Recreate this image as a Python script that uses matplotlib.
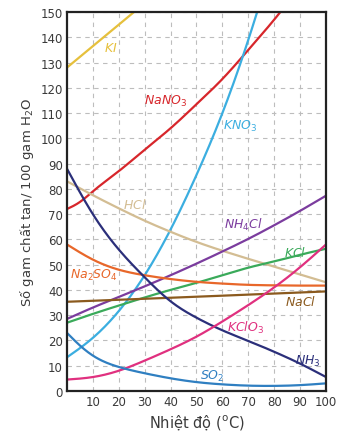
import numpy as np
import matplotlib
matplotlib.use("Agg")
import matplotlib.pyplot as plt

# ---- data (temperature °C, solubility g / 100 g H2O) ----
t_KI = [0, 10, 20, 30]
v_KI = [128, 136.5, 145, 153.5]
t_NaNO3 = [0, 5, 10, 20, 30, 40, 50, 60, 70, 80, 90]
v_NaNO3 = [72, 74.8, 79, 87, 95.5, 104, 113.5, 123.5, 135, 147, 160]
t_KNO3 = [0, 10, 20, 30, 40, 50, 60, 70, 80]
v_KNO3 = [13.3, 21, 31.6, 45.8, 63.9, 85.5, 110, 139, 172]
t_HCl = [0, 10, 20, 30, 40, 50, 60, 70, 80, 90, 100]
v_HCl = [83, 77.5, 72.3, 67.4, 63, 59, 55.5, 52.3, 49.2, 46.1, 43]
t_NH4Cl = [0, 10, 20, 30, 40, 50, 60, 70, 80, 90, 100]
v_NH4Cl = [28.5, 33, 37.2, 41.4, 45.8, 50.4, 55.2, 60.2, 65.6, 71.3, 77.3]
t_KCl = [0, 10, 20, 30, 40, 50, 60, 70, 80, 90, 100]
v_KCl = [27, 30.5, 33.8, 37, 40, 42.8, 45.8, 48.8, 51.3, 53.9, 56.3]
t_Na2SO4 = [0, 10, 20, 30, 40, 50, 60, 70, 80, 90, 100]
v_Na2SO4 = [58, 52, 48, 45.8, 44.3, 43.2, 42.5, 42, 41.8, 41.7, 41.7]
t_NaCl = [0, 50, 100]
v_NaCl = [35.3, 37.3, 39.4]
t_NH3 = [0, 10, 20, 30, 40, 50, 60, 70, 80, 90, 100]
v_NH3 = [88, 70, 56, 45, 35.5, 29, 24, 19.8, 15.5, 10.8, 5.5]
t_KClO3 = [0, 10, 20, 30, 40, 50, 60, 70, 80, 90, 100]
v_KClO3 = [4.5, 5.5, 8, 12, 16.5, 21.5, 27.5, 34, 41, 49, 58]
t_SO2 = [0, 5, 10, 20, 30, 40, 50, 60, 70, 80, 90, 100]
v_SO2 = [23, 18, 14, 9.5, 7, 5, 3.5, 2.6, 2.1, 2, 2.3, 3]

xticks = [10, 20, 30, 40, 50, 60, 70, 80, 90, 100]
yticks = list(range(0, 151, 10))

series = [
    (t_KI, v_KI, "#E6C03C", r"$\mathit{KI}$", 17, 136),
    (t_NaNO3, v_NaNO3, "#D7262B", r"$\mathit{NaNO_3}$", 38, 115),
    (t_KNO3, v_KNO3, "#3BAEE0", r"$\mathit{KNO_3}$", 67, 105),
    (t_HCl, v_HCl, "#D3BD93", r"$\mathit{HCl}$", 26, 74),
    (t_NH4Cl, v_NH4Cl, "#7B3C9E", r"$\mathit{NH_4Cl}$", 68, 66),
    (t_KCl, v_KCl, "#3AAA5A", r"$\mathit{KCl}$", 88, 55),
    (t_Na2SO4, v_Na2SO4, "#E8672A", r"$\mathit{Na_2SO_4}$", 10.5, 46),
    (t_NaCl, v_NaCl, "#8B5A1E", r"$\mathit{NaCl}$", 90, 35.5),
    (t_NH3, v_NH3, "#2B2F7A", r"$\mathit{NH_3}$", 93, 12),
    (t_KClO3, v_KClO3, "#E0307F", r"$\mathit{KClO_3}$", 69, 25.5),
    (t_SO2, v_SO2, "#2F7FC1", r"$\mathit{SO_2}$", 56, 6.3),
]


def smooth(x, y, per=30):
    """Natural cubic spline through the points (drawing only)."""
    x = np.asarray(x, float)
    y = np.asarray(y, float)
    n = len(x)
    if n < 3:
        return x, y
    h = np.diff(x)
    A = np.zeros((n, n))
    b = np.zeros(n)
    A[0, 0] = A[-1, -1] = 1
    for i in range(1, n - 1):
        A[i, i - 1] = h[i - 1]
        A[i, i] = 2 * (h[i - 1] + h[i])
        A[i, i + 1] = h[i]
        b[i] = 3 * ((y[i + 1] - y[i]) / h[i] - (y[i] - y[i - 1]) / h[i - 1])
    c = np.linalg.solve(A, b)
    xs, ys = [], []
    for i in range(n - 1):
        bi = (y[i + 1] - y[i]) / h[i] - h[i] * (2 * c[i] + c[i + 1]) / 3
        di = (c[i + 1] - c[i]) / (3 * h[i])
        s = np.linspace(0, h[i], per, endpoint=(i == n - 2))
        xs.append(x[i] + s)
        ys.append(y[i] + bi * s + c[i] * s**2 + di * s**3)
    return np.concatenate(xs), np.concatenate(ys)


fig = plt.figure(figsize=(3.45, 4.35), dpi=100)
ax = fig.add_axes([0.194, 0.099, 0.751, 0.871])

for t, v, c, lab, lx, ly in series:
    xs, ys = smooth(t, v)
    ax.plot(xs, ys, color=c, lw=1.6, clip_on=True)
    ax.text(lx, ly, lab, color=c, fontsize=9, ha="center", va="center")

ax.set_xlim(0, 100)
ax.set_ylim(0, 150)
ax.set_xticks(xticks)
ax.set_yticks(yticks)
ax.tick_params(length=0, labelsize=8.5, colors="#3a3a3a", pad=3)
ax.grid(True, color="#BDBDBD", ls=(0, (4, 4)), lw=0.8)
ax.set_axisbelow(True)
for sp in ax.spines.values():
    sp.set_linewidth(1.6)
    sp.set_color("#222222")

ax.set_xlabel(r"Nhiệt độ ($^{\mathrm{o}}$C)", fontsize=10.5, color="#3a3a3a", labelpad=3)
ax.set_ylabel("Số gam chất tan/ 100 gam H$_2$O", fontsize=9.5, color="#3a3a3a", labelpad=3)

fig.savefig("out.png", dpi=100)
